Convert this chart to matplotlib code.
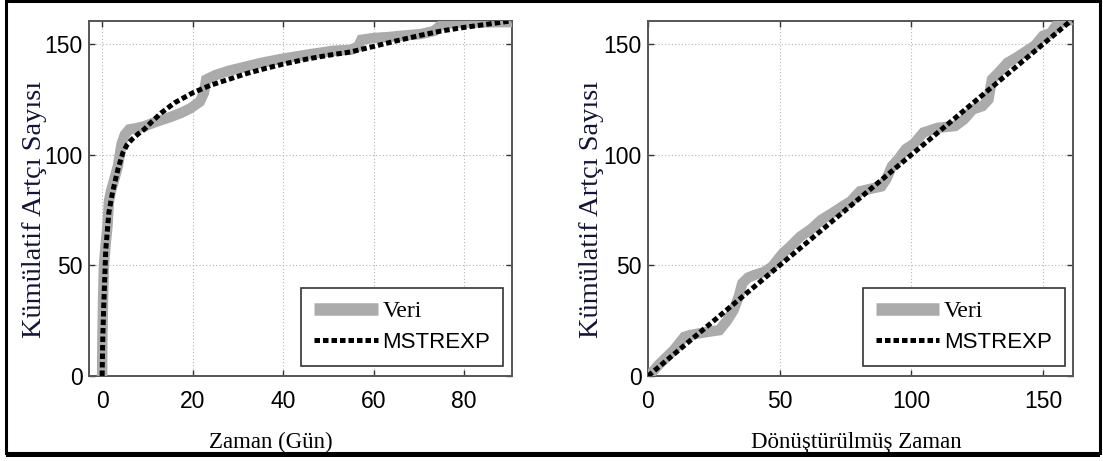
import matplotlib
matplotlib.use("Agg")
import matplotlib.pyplot as plt
from matplotlib.patches import Rectangle
from matplotlib.lines import Line2D

# ---------------- data ----------------
veri_t = [0, 0.05, 0.2, 0.4, 0.8, 1.2, 1.5, 2.0, 2.7, 3.5, 4.3, 5.0, 6.0, 7.5, 9.5,
          12, 15, 17.5, 19.5, 21.6, 22.5, 23.0, 25, 28, 31, 35, 40, 46, 51, 55,
          56.6, 57.3, 60, 63, 67, 70.5, 73.4, 74.5, 75.5, 80, 85, 90.6]
veri_n = [0, 15, 34, 50, 60, 68, 79, 84, 89, 95, 105, 109, 111.5, 112, 113,
          115, 117, 119, 121, 124, 128, 134, 136, 138, 139.5, 141.5, 143.5, 145.5, 147, 147.5,
          149, 152, 152.8, 153.2, 154, 154.6, 156, 158, 159.3, 159.7, 159.9, 160]

model_t = [0, 0.15, 0.4, 0.8, 1.5, 2.3, 3.5, 4.6, 5.5, 6.6, 8, 9.3, 11, 13.1, 16, 20,
           24, 27.8, 32, 36, 40, 45, 50, 54.9, 60, 65, 70.3, 75, 80, 85, 90.6]
model_n = [0, 18, 34, 57, 74, 83, 93.5, 101, 104.5, 107, 109.5, 111.5, 115, 119, 123.5, 128,
           131.5, 134, 136.8, 139, 141, 143.2, 145, 146.5, 149, 151.5, 154, 156, 157.6, 159, 160.6]

veri_tau = [0, 1.1, 4, 7.1, 10, 13.8, 16, 19.1, 23, 27.1, 30, 32.5, 34.5, 35.8, 38, 40.5,
            44, 47.1, 51.2, 54, 57.8, 62, 65.8, 69.9, 73.9, 77, 80.5, 84, 88.6, 90.5,
            92.6, 95, 97.9, 101, 104.6, 107, 110, 116.6, 120, 123.3, 127, 129.3, 130.6,
            133, 136.6, 140, 144.7, 147, 150, 153, 155.3, 159.3, 161]
veri_tau_n = [0, 1, 5, 8.6, 12, 17.7, 18.5, 19.2, 20, 20.7, 25, 29.8, 36, 41.9, 44.5, 45.7,
              47, 49.4, 55.5, 58.5, 63, 66.5, 70.6, 73.6, 76.7, 79, 83.5, 84.5, 85.7, 89,
              94.8, 98, 102.6, 105, 110.1, 111, 112.2, 113, 116, 120.5, 122, 125, 134.1,
              137, 141.7, 144, 147.7, 149.5, 153.8, 155, 159, 160.6, 161]

model_tau = [0, 161]
model_tau_n = [0, 161]

xticks_left = [0, 20, 40, 60, 80]
xticks_right = [0, 50, 100, 150]
yticks = [0, 50, 100, 150]

ylabel = "Kümülatif Artçı Sayısı"
xlabel_left = "Zaman (Gün)"
xlabel_right = "Dönüştürülmüş Zaman"
legend_labels = ["Veri", "MSTREXP"]

# ---------------- style ----------------
SANS = ["Liberation Sans", "DejaVu Sans"]
SERIF = ["Liberation Serif", "DejaVu Serif"]
GRAY = "#ababab"
YLCOLOR = "#14143a"

W, H = 1103, 461
fig = plt.figure(figsize=(W / 100, H / 100), dpi=100)
fig.patch.set_facecolor("white")


def px_axes(x0, x1, y0, y1):
    return fig.add_axes([x0 / W, (H - y1) / H, (x1 - x0) / W, (y1 - y0) / H])


axL = px_axes(89, 512, 21, 376)
axR = px_axes(648, 1073, 21, 376)

panels = [
    (axL, veri_t, veri_n, model_t, model_n, (-2.9, 90.6), xticks_left, xlabel_left, 0.43),
    (axR, veri_tau, veri_tau_n, model_tau, model_tau_n, (0, 161.4), xticks_right, xlabel_right, 0.489),
]

for ax, vx, vy, mx, my, xlim, xt, xl, xlx in panels:
    ax.plot(vx, vy, color=GRAY, lw=7.5, solid_joinstyle="miter", solid_capstyle="butt", zorder=3)
    ax.plot(mx, my, color="black", lw=3.6, linestyle=(0, (1.1, 0.6)),
            dash_capstyle="butt", zorder=4)
    ax.set_xlim(*xlim)
    ax.set_ylim(0, 160.5)
    ax.set_xticks(xt)
    ax.set_yticks(yticks)
    ax.grid(True, color="#b5b5b5", lw=0.8, linestyle=(0, (1, 2)))
    ax.tick_params(direction="in", length=4, width=1, top=True, right=True,
                   color="#333333", labelsize=16.5)
    ax.tick_params(axis="y", pad=4.5)
    ax.tick_params(axis="x", pad=10)
    for lab in ax.get_xticklabels() + ax.get_yticklabels():
        lab.set_fontfamily(SANS)
    for sp in ax.spines.values():
        sp.set_color("#555555")
        sp.set_linewidth(1.4)

    ax.set_xlabel(xl, fontsize=16.5, family=SERIF, color="black")
    ax.xaxis.set_label_coords(xlx, -0.158)
    ax.xaxis.label.set_va("top")
    ax.set_ylabel(ylabel, fontsize=20.5, family=SERIF, color=YLCOLOR)
    ax.yaxis.label.set_va("center")
    ax.yaxis.set_label_coords(-0.13 if ax is axL else -0.133, 0.468)

    handles = [
        Line2D([], [], color=GRAY, lw=9, solid_capstyle="butt"),
        Line2D([], [], color="black", lw=3.6, linestyle=(0, (1.1, 0.6)), dash_capstyle="butt"),
    ]
    leg = ax.legend(handles, legend_labels, loc="lower right",
                    bbox_to_anchor=(0.979 if ax is axL else 0.981, 0.028),
                    borderaxespad=0, fancybox=False, framealpha=1, edgecolor="#333333",
                    fontsize=17, handlelength=2.7, handletextpad=0.2,
                    borderpad=0.55, labelspacing=0.4)
    leg.get_frame().set_linewidth(1.2)
    leg.set_zorder(10)
    t0, t1 = leg.get_texts()
    t0.set_fontfamily(SERIF)
    t1.set_fontfamily(SANS)
    t1.set_fontsize(16)

# figure frame
fig.add_artist(Rectangle((6 / W, 8 / H), 1094 / W, (H - 9) / H, transform=fig.transFigure,
                         fill=False, edgecolor="black", lw=2.2, zorder=20))
fig.add_artist(Rectangle((0, 0), 1, 8 / H, transform=fig.transFigure,
                         facecolor="white", edgecolor="none", zorder=19))
fig.add_artist(Rectangle((6 / W, 4 / H), 1094 / W, 5 / H, transform=fig.transFigure,
                         facecolor="black", edgecolor="none", zorder=21))

fig.savefig("out.png", dpi=100)
